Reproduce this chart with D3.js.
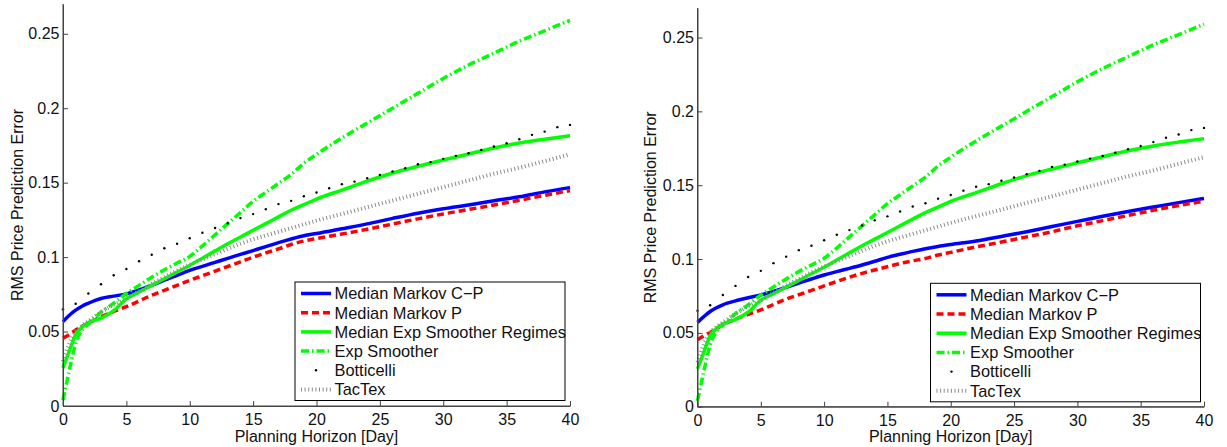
<!DOCTYPE html>
<html>
<head>
<meta charset="utf-8">
<script src="https://cdn.jsdelivr.net/npm/d3@7"></script>
<style>
body { margin: 0; background: #fff; }
svg { display: block; font-family: "Liberation Sans", Arial, Helvetica, sans-serif; }
.axis path, .axis line { stroke: #444; }
.axis text { font-size: 16px; fill: #111; }
.lbl { font-size: 16px; fill: #111; }
.li text { font-size: 16.4px; }
</style>
</head>
<body>
<svg></svg>
<script>
// planning horizon grid (days) used by the curves
var days = [0, 0.5, 1, 1.5, 2, 3, 4, 5, 6, 7, 8, 9, 10, 11, 12, 13, 14, 15, 16, 17, 18, 19, 20,
    22, 24, 26, 28, 30, 32, 34, 36, 38, 40];

// left panel
var markovCP_L = [0.0567, 0.061, 0.0644, 0.067, 0.069, 0.0722, 0.0738, 0.0753, 0.078, 0.081, 0.0845, 0.0878,
    0.0911, 0.0938, 0.0965, 0.0992, 0.1018, 0.1044, 0.107, 0.1097, 0.1122, 0.1144, 0.1158,
    0.119, 0.1223, 0.126, 0.1295, 0.1325, 0.135, 0.1378, 0.1405, 0.1438, 0.1467];
var markovP_L = [0.0456, 0.048, 0.051, 0.0535, 0.0556, 0.06, 0.0635, 0.0667, 0.0705, 0.0744, 0.0777, 0.081,
    0.0844, 0.0875, 0.0906, 0.0937, 0.0968, 0.1, 0.1028, 0.1055, 0.1085, 0.1108, 0.1125,
    0.1155, 0.1187, 0.1222, 0.1257, 0.129, 0.132, 0.135, 0.1382, 0.1415, 0.1447];
// right panel
var markovCP_R = [0.0571, 0.061, 0.0645, 0.067, 0.069, 0.0717, 0.0738, 0.0757, 0.078, 0.0809, 0.0837, 0.0865,
    0.0892, 0.0915, 0.0937, 0.096, 0.0985, 0.1011, 0.1032, 0.1052, 0.107, 0.1085, 0.1098,
    0.1122, 0.1153, 0.1185, 0.122, 0.1255, 0.129, 0.1322, 0.1352, 0.1382, 0.141];
var markovP_R = [0.0454, 0.048, 0.0503, 0.053, 0.0555, 0.0593, 0.0625, 0.0656, 0.0692, 0.0728, 0.0758, 0.0788,
    0.0818, 0.0848, 0.0877, 0.0903, 0.0926, 0.0948, 0.097, 0.0988, 0.1004, 0.1027, 0.1045,
    0.1082, 0.1115, 0.115, 0.1185, 0.1225, 0.126, 0.1295, 0.133, 0.1362, 0.1392];
// shared by both panels
var expRegimes = [0.0256, 0.037, 0.048, 0.053, 0.056, 0.059, 0.064, 0.072, 0.0765, 0.081, 0.0855, 0.09,
    0.0944, 0.0993, 0.1042, 0.109, 0.1135, 0.118, 0.1225, 0.127, 0.1315, 0.1352, 0.139,
    0.145, 0.151, 0.1565, 0.161, 0.1652, 0.1693, 0.1733, 0.1766, 0.1792, 0.1815];
var expSmoother = [0.004, 0.024, 0.042, 0.051, 0.055, 0.063, 0.069, 0.0756, 0.081, 0.0865, 0.0915, 0.096,
    0.1005, 0.1075, 0.115, 0.1225, 0.13, 0.1375, 0.1435, 0.1495, 0.1555, 0.163, 0.169,
    0.18, 0.19, 0.2, 0.21, 0.22, 0.229, 0.237, 0.245, 0.252, 0.259];
var tactex = [0.03, 0.042, 0.05, 0.054, 0.057, 0.063, 0.068, 0.072, 0.077, 0.082, 0.0865, 0.091,
    0.095, 0.0985, 0.102, 0.1055, 0.109, 0.112, 0.1145, 0.117, 0.1195, 0.122, 0.1245,
    0.129, 0.1335, 0.138, 0.1425, 0.147, 0.1515, 0.156, 0.16, 0.1645, 0.169];
// botticelli is only marked at whole days 0..40
var botticelli = [0.065, 0.0687, 0.0756, 0.0818, 0.0878, 0.092, 0.0972, 0.1016, 0.106, 0.109, 0.1127,
    0.1164, 0.1196, 0.1227, 0.1262, 0.1289, 0.1322, 0.1356, 0.1378, 0.1409, 0.1434,
    0.1463, 0.149, 0.1507, 0.153, 0.1552, 0.1575, 0.1597, 0.1624, 0.1638, 0.166,
    0.168, 0.1698, 0.172, 0.1743, 0.1765, 0.1792, 0.1821, 0.1843, 0.1873, 0.1888];

var xTicks = [0, 5, 10, 15, 20, 25, 30, 35, 40];
var yTicks = [0, 0.05, 0.1, 0.15, 0.2, 0.25];
var names = ['Median Markov C\u2212P', 'Median Markov P', 'Median Exp Smoother Regimes', 'Exp Smoother', 'Botticelli', 'TacTex'];

var styles = [
    {color: '#0000ff', width: 3.5, dash: null},
    {color: '#ff0000', width: 3.5, dash: '7,4'},
    {color: '#00ff00', width: 3.5, dash: null},
    {color: '#00ff00', width: 3.5, dash: '8,3,1.5,3'},
    {color: '#000', dot: true},
    {color: '#8c8c8c', width: 4, dash: '1,2.6'}
];

var svg = d3.select('svg').attr('width', 1227).attr('height', 447);

var panels = [
    {x0: 63, x1: 570, yTop: 4, yBot: 406, cp: markovCP_L, p: markovP_L, legX: 295, legY: 282, ylabX: 23},
    {x0: 697.5, x1: 1204, yTop: 8, yBot: 406.7, cp: markovCP_R, p: markovP_R, legX: 930.5, legY: 283.3, ylabX: 656}
];

panels.forEach(function (pn) {
    var x = d3.scaleLinear().domain([0, 40]).range([pn.x0, pn.x1]),
        y = d3.scaleLinear().domain([0, 0.27]).range([pn.yBot, pn.yTop]);

    var g = svg.append('g');

    var line = d3.line()
        .curve(d3.curveMonotoneX)
        .x(function (d, i) { return x(days[i]); })
        .y(function (d) { return y(d); });

    var series = [pn.cp, pn.p, expRegimes, expSmoother, null, tactex];
    series.forEach(function (s, k) {
        var st = styles[k];
        if (st.dot) {
            g.selectAll('.bot')
                .data(botticelli)
                .enter().append('circle')
                .attr('class', 'bot')
                .attr('cx', function (d, i) { return x(i); })
                .attr('cy', function (d) { return y(d); })
                .attr('r', 1.2)
                .attr('fill', st.color);
            return;
        }
        g.append('path')
            .attr('d', line(s))
            .attr('fill', 'none')
            .attr('stroke', st.color)
            .attr('stroke-width', st.width)
            .attr('stroke-dasharray', st.dash);
    });

    // axes, ticks point inward like matlab
    g.append('g')
        .attr('class', 'axis')
        .attr('transform', 'translate(0,' + pn.yBot + ')')
        .call(d3.axisBottom(x).tickValues(xTicks).tickSizeInner(-5).tickSizeOuter(0).tickPadding(8)
            .tickFormat(d3.format('d')));
    g.append('g')
        .attr('class', 'axis')
        .attr('transform', 'translate(' + pn.x0 + ',0)')
        .call(d3.axisLeft(y).tickValues(yTicks).tickSizeInner(-5).tickSizeOuter(0).tickPadding(3.5)
            .tickFormat(function (d) { return String(+d.toFixed(2)); }));
    // axis lines run to the full extent
    g.append('line')
        .attr('x1', pn.x0).attr('x2', pn.x0).attr('y1', pn.yTop).attr('y2', pn.yBot)
        .attr('stroke', '#444');
    g.append('line')
        .attr('x1', pn.x0).attr('x2', pn.x1).attr('y1', pn.yBot).attr('y2', pn.yBot)
        .attr('stroke', '#444');

    g.append('text')
        .attr('class', 'lbl')
        .attr('x', (pn.x0 + pn.x1) / 2)
        .attr('y', 441.5)
        .attr('text-anchor', 'middle')
        .text('Planning Horizon [Day]');
    g.append('text')
        .attr('class', 'lbl')
        .attr('transform', 'translate(' + pn.ylabX + ',' + ((pn.yTop + pn.yBot) / 2) + ') rotate(-90)')
        .attr('text-anchor', 'middle')
        .text('RMS Price Prediction Error');

    // legend
    var leg = g.append('g').attr('transform', 'translate(' + pn.legX + ',' + pn.legY + ')');
    leg.append('rect')
        .attr('width', 270).attr('height', 118.5)
        .attr('fill', '#fff').attr('stroke', '#000').attr('stroke-width', 1);
    var li = leg.selectAll('.li')
        .data(names)
        .enter().append('g')
        .attr('class', 'li')
        .attr('transform', function (d, i) { return 'translate(0,' + (11.5 + i * 19.2) + ')'; });
    li.each(function (d, i) {
        var st = styles[i], el = d3.select(this);
        if (st.dot) {
            el.append('circle').attr('cx', 21).attr('cy', 0).attr('r', 1.2).attr('fill', st.color);
        } else {
            el.append('line')
                .attr('x1', 6).attr('x2', 36).attr('y1', 0).attr('y2', 0)
                .attr('stroke', st.color)
                .attr('stroke-width', st.width)
                .attr('stroke-dasharray', st.dash);
        }
    });
    li.append('text')
        .attr('class', 'lbl')
        .attr('x', 39.5)
        .attr('y', 5.8)
        .text(function (d) { return d; });
});
</script>
</body>
</html>
